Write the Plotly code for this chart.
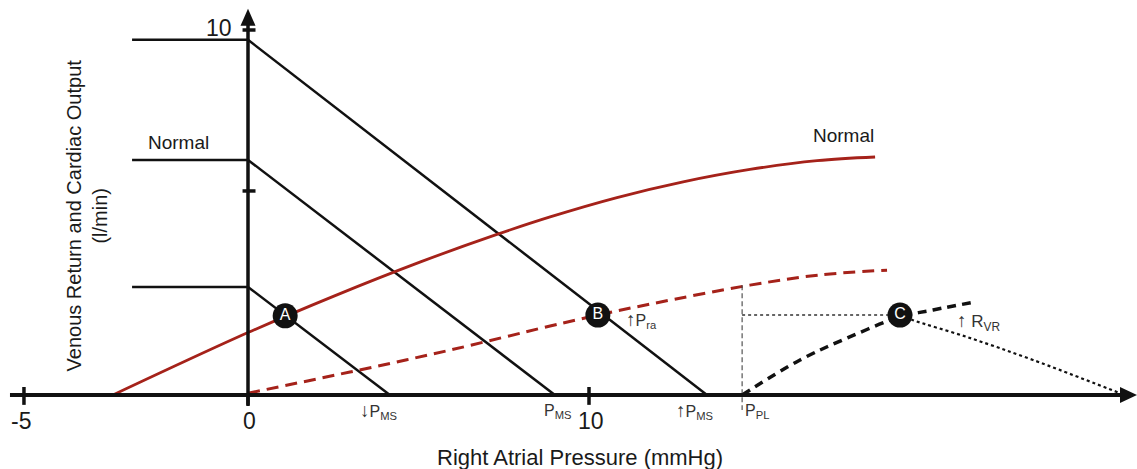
import plotly.graph_objects as go

# ---------------- data (schematic units: x = mmHg-ish, y = l/min-ish) ----------------
# cardiac output plateaus (horizontal segments left of the y-axis)
plateau_levels = [9.73, 6.44, 2.96]
plateau_start_x = -3.40
# venous return lines: start at plateau level on y-axis, end at mean systemic pressure
vr_end_x = [13.46, 9.00, 4.16]
pms_labels = ["P<sub>MS</sub>", "P<sub>MS</sub>", "P<sub>MS</sub>"]
pms_arrows = ["↑", "", "↓"]
pms_label_x = [13.10, 9.09, 3.82]

# normal cardiac output curve (solid red)
co_normal_x = [-3.96, 0.0, 2.52, 5.04, 7.30, 8.86, 10.82, 12.76, 14.72, 16.69, 18.39]
co_normal_y = [0.0, 1.71, 2.71, 3.64, 4.40, 4.88, 5.41, 5.84, 6.18, 6.42, 6.52]

# depressed cardiac output curve (dashed red)
co_low_x = [0.0, 2.99, 5.92, 8.86, 10.26, 11.79, 14.72, 16.77, 18.74]
co_low_y = [0.05, 0.63, 1.23, 1.89, 2.19, 2.49, 3.01, 3.29, 3.42]

# cardiac output curve shifted by pleural pressure (dashed black)
co_ppl_x = [14.49, 16.19, 17.57, 19.12, 20.09, 21.32]
co_ppl_y = [0.0, 0.96, 1.56, 2.14, 2.33, 2.55]

# increased resistance venous return (dotted black)
vr_rvr_x = [19.12, 19.50, 21.08, 23.02, 25.57]
vr_rvr_y = [2.19, 2.05, 1.59, 0.96, 0.05]

# equilibrium points
pt_labels = ["A", "B", "C"]
pt_x = [1.09, 10.26, 19.12]
pt_y = [2.17, 2.19, 2.19]

p_pl = 14.49
p_pl_top = 3.01

# axis ticks
xtick_pos = [-6.57, 0.0, 10.0]
xtick_text = ["-5", "0", "10"]
ytick_pos = [10.0, 5.59]
ytick_text = ["10", ""]

# ---------------- figure ----------------
RED = "#a5221a"
BLK = "#111111"
FONT = "Liberation Sans, Arial, Helvetica, sans-serif"

fig = go.Figure()

# plateaus
for lv in plateau_levels:
    fig.add_trace(go.Scatter(x=[plateau_start_x, 0], y=[lv, lv], mode="lines",
                             line=dict(color=BLK, width=2.5), hoverinfo="skip"))
# venous return lines
for lv, ex in zip(plateau_levels, vr_end_x):
    fig.add_trace(go.Scatter(x=[0, ex], y=[lv, 0], mode="lines",
                             line=dict(color=BLK, width=2.5), hoverinfo="skip"))

fig.add_trace(go.Scatter(x=co_normal_x, y=co_normal_y, mode="lines",
                         line=dict(color=RED, width=2.8, shape="spline", smoothing=1.0), hoverinfo="skip"))
fig.add_trace(go.Scatter(x=co_low_x, y=co_low_y, mode="lines",
                         line=dict(color=RED, width=3, shape="spline", dash="12px,7px"), hoverinfo="skip"))
fig.add_trace(go.Scatter(x=co_ppl_x, y=co_ppl_y, mode="lines",
                         line=dict(color=BLK, width=3.5, shape="spline", dash="9px,6px"), hoverinfo="skip"))
fig.add_trace(go.Scatter(x=vr_rvr_x, y=vr_rvr_y, mode="lines",
                         line=dict(color=BLK, width=2.2, shape="spline", dash="dot"), hoverinfo="skip"))

# P_PL guide lines
fig.add_trace(go.Scatter(x=[p_pl, p_pl], y=[p_pl_top, -0.41], mode="lines",
                         line=dict(color="#444444", width=1.1, dash="5px,3px"), hoverinfo="skip"))
fig.add_trace(go.Scatter(x=[p_pl, pt_x[2]], y=[pt_y[2], pt_y[2]], mode="lines",
                         line=dict(color="#333333", width=1.4, dash="dot"), hoverinfo="skip"))

# axes
fig.add_trace(go.Scatter(x=[-6.98, 25.8], y=[0, 0], mode="lines",
                         line=dict(color=BLK, width=4), hoverinfo="skip"))
fig.add_trace(go.Scatter(x=[0, 0], y=[-0.3, 10.3], mode="lines",
                         line=dict(color=BLK, width=3.5), hoverinfo="skip"))
# ticks on axes
for xv in xtick_pos:
    y0 = -0.27
    y1 = 0.22 if xv != 0 else 0
    fig.add_trace(go.Scatter(x=[xv, xv], y=[y0, y1], mode="lines",
                             line=dict(color=BLK, width=3.5), hoverinfo="skip"))
for yv in ytick_pos:
    fig.add_trace(go.Scatter(x=[-0.16, 0.22], y=[yv, yv], mode="lines",
                             line=dict(color=BLK, width=3.5), hoverinfo="skip"))

# arrowheads
fig.add_shape(type="path", xsizemode="pixel", ysizemode="pixel", xanchor=0, yanchor=10.58,
              path="M 0,0 L -7.5,-17 L 7.5,-17 Z", fillcolor=BLK, line=dict(width=0))
fig.add_shape(type="path", xsizemode="pixel", ysizemode="pixel", xanchor=26.07, yanchor=0,
              path="M 0,0 L -17,8 L -17,-8 Z", fillcolor=BLK, line=dict(width=0))

# equilibrium points
fig.add_trace(go.Scatter(x=pt_x, y=pt_y, mode="markers+text", text=pt_labels,
                         textposition="middle center",
                         textfont=dict(color="white", size=16, family=FONT),
                         marker=dict(color=BLK, size=25, line=dict(width=0)),
                         hoverinfo="skip"))

ann = []
def txt(x, y, s, size, xanchor="center", color="#1a1a1a", **kw):
    ann.append(dict(x=x, y=y, text=s, showarrow=False, xanchor=xanchor, yanchor="middle",
                    font=dict(size=size, color=color, family=FONT), **kw))

def arrowed(a, s):
    if not a:
        return s
    return '<span style="font-size:19px">' + a + '</span>' + s

for a, lab, lx in zip(pms_arrows, pms_labels, pms_label_x):
    txt(lx, -0.45, arrowed(a, lab), 16, color="#333333")
txt(14.52, -0.45, "P<sub>PL</sub>", 16, xanchor="left", color="#333333")
txt(11.03, 2.05, arrowed("↑", "P<sub>ra</sub>"), 16, xanchor="left", color="#333333")
txt(20.73, 2.0, arrowed("↑", " R<sub>VR</sub>"), 17, xanchor="left", color="#333333")
txt(-2.05, 6.93, "Normal", 19)
txt(17.45, 7.10, "Normal", 19)

for xv, t in zip(xtick_pos, xtick_text):
    txt(xv - (0.1 if xv < 0 else -0.05), -0.72, t, 23)
txt(-0.40, 10.05, ytick_text[0], 23, xanchor="right")

txt(9.74, -1.70, "Right Atrial Pressure (mmHg)", 22)
ann.append(dict(x=-4.72, y=4.92, text="Venous Return and Cardiac Output<br>(l/min)",
                showarrow=False, textangle=-90, xanchor="center", yanchor="middle",
                font=dict(size=20, color="#1a1a1a", family=FONT)))

fig.update_layout(
    width=1137, height=469,
    margin=dict(l=0, r=0, t=0, b=0),
    paper_bgcolor="white", plot_bgcolor="white",
    showlegend=False,
    xaxis=dict(range=[-248 / 34.1, 889 / 34.1], visible=False, fixedrange=True),
    yaxis=dict(range=[-74 / 36.5, 395 / 36.5], visible=False, fixedrange=True),
    annotations=ann,
)

fig.write_html("out.html", config={"displayModeBar": False},
               post_script="document.body.style.margin='0';document.body.style.overflow='hidden';")
